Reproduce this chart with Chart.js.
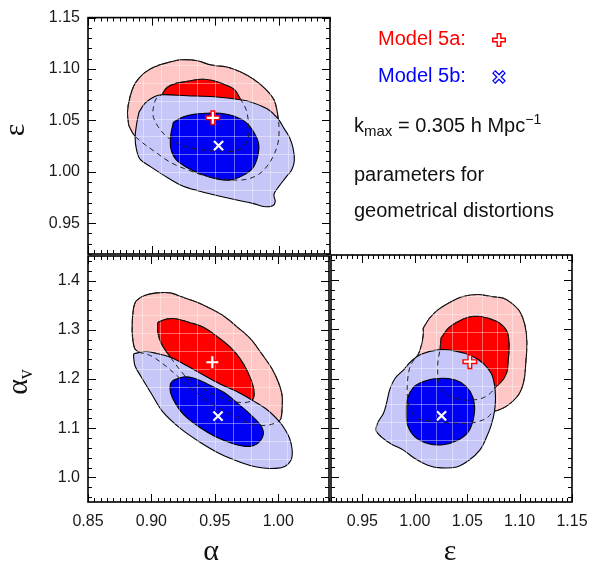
<!DOCTYPE html>
<html>
<head>
<meta charset="utf-8">
<script src="https://cdn.jsdelivr.net/npm/chart.js@4.4.0/dist/chart.umd.js"></script>
<style>
    body { margin: 0; background: #fff; }
    #wrap { position: relative; width: 598px; height: 565px; overflow: hidden; }
    canvas { position: absolute; left: 0; top: 0; }
    .txt { position: absolute; font-family: 'Liberation Sans', Arial, sans-serif; font-size: 20px; line-height: 24px; white-space: nowrap; color: #111; }
    .ttl { position: absolute; font-family: 'Liberation Serif', 'Times New Roman', serif; font-size: 30px; line-height: 30px; white-space: nowrap; color: #111; }
</style>
</head>
<body>
<div id="wrap">
    <canvas id="cAE" width="598" height="565"></canvas>
    <canvas id="cAV" width="598" height="565"></canvas>
    <canvas id="cEV" width="598" height="565"></canvas>

    <div class="txt" style="left:378px;top:26px;color:#ff0000">Model 5a:</div>
    <div class="txt" style="left:378px;top:63px;color:#0000ff">Model 5b:</div>
    <div class="txt" style="left:354px;top:113px">k<span style="font-size:15px;position:relative;top:4px">max</span> = 0.305 h Mpc<span style="font-size:14px;position:relative;top:-8px">&minus;1</span></div>
    <div class="txt" style="left:354px;top:162px">parameters for</div>
    <div class="txt" style="left:354px;top:198px">geometrical distortions</div>

    <div class="ttl" style="left:14px;top:130px;transform:translate(-50%,-50%) rotate(-90deg)">&epsilon;</div>
    <div class="ttl" style="left:18px;top:382px;transform:translate(-50%,-50%) rotate(-90deg)">&alpha;<span style="font-size:20px;position:relative;top:5px">v</span></div>
    <div class="ttl" style="left:211px;top:550px;transform:translate(-50%,-50%)">&alpha;</div>
    <div class="ttl" style="left:450px;top:550px;transform:translate(-50%,-50%)">&epsilon;</div>
</div>

<script>
// axis ranges and tick labels
const alphaRange = [0.85, 1.04];
const epsRange = [0.92, 1.15];
const avRange = [0.95, 1.45];
const alphaTicks = [0.85, 0.90, 0.95, 1.00];
const epsTicks = [0.95, 1.00, 1.05, 1.10, 1.15];
const avTicks = [1.0, 1.1, 1.2, 1.3, 1.4];

// best fit points [alpha, epsilon, alpha_v]
const best5a = [0.948, 1.0525, 1.234];
const best5b = [0.9525, 1.0255, 1.1245];

// alpha - epsilon contours (95% / 68%)
const aeRed95 = [[0.882,1.045],[0.881,1.058],[0.883,1.073],[0.887,1.086],[0.894,1.096],[0.902,1.102],[0.912,1.106],[0.923,1.109],[0.936,1.108],[0.946,1.104],[0.959,1.102],[0.970,1.097],[0.980,1.090],[0.989,1.081],[0.996,1.070],[0.999,1.055],[1.000,1.039],[0.999,1.027],[0.995,1.014],[0.989,1.003],[0.982,0.996],[0.971,0.992],[0.957,0.993],[0.942,0.996],[0.928,1.002],[0.915,1.009],[0.902,1.020],[0.891,1.030],[0.886,1.036]];
const aeRed68 = [[0.908,1.075],[0.912,1.082],[0.919,1.086],[0.928,1.088],[0.938,1.090],[0.947,1.089],[0.957,1.085],[0.965,1.080],[0.970,1.070],[0.974,1.061],[0.976,1.048],[0.976,1.034],[0.972,1.025],[0.965,1.020],[0.951,1.020],[0.936,1.022],[0.923,1.026],[0.912,1.034],[0.905,1.044],[0.901,1.055],[0.902,1.066],[0.904,1.072]];
const aeBlue95 = [[0.890,1.058],[0.895,1.067],[0.902,1.073],[0.908,1.075],[0.928,1.074],[0.949,1.073],[0.970,1.070],[0.980,1.067],[0.991,1.061],[0.999,1.052],[1.004,1.042],[1.008,1.034],[1.011,1.023],[1.012,1.011],[1.010,1.002],[1.005,0.994],[1.000,0.986],[0.996,0.978],[0.997,0.971],[0.995,0.967],[0.989,0.966],[0.980,0.969],[0.965,0.973],[0.951,0.977],[0.938,0.981],[0.923,0.987],[0.909,0.997],[0.899,1.005],[0.891,1.012],[0.888,1.022],[0.887,1.033],[0.888,1.045]];
const aeBlue68 = [[0.917,1.048],[0.924,1.053],[0.933,1.056],[0.944,1.057],[0.954,1.057],[0.965,1.054],[0.974,1.048],[0.980,1.039],[0.984,1.027],[0.983,1.014],[0.979,1.003],[0.971,0.996],[0.962,0.992],[0.951,0.993],[0.940,0.997],[0.928,1.004],[0.919,1.012],[0.915,1.023],[0.915,1.036]];

// alpha - alpha_v contours
const avRed95 = [[0.886,1.346],[0.888,1.359],[0.895,1.370],[0.904,1.375],[0.915,1.375],[0.925,1.366],[0.936,1.356],[0.946,1.344],[0.957,1.328],[0.967,1.307],[0.978,1.282],[0.987,1.251],[0.995,1.221],[1.000,1.194],[1.003,1.167],[1.003,1.139],[1.002,1.119],[0.999,1.112],[0.991,1.106],[0.980,1.107],[0.970,1.119],[0.957,1.136],[0.944,1.156],[0.930,1.183],[0.920,1.207],[0.909,1.231],[0.899,1.248],[0.891,1.254],[0.887,1.261],[0.885,1.288],[0.885,1.322]];
const avRed68 = [[0.905,1.315],[0.912,1.322],[0.920,1.322],[0.930,1.315],[0.941,1.305],[0.951,1.288],[0.962,1.265],[0.970,1.241],[0.976,1.214],[0.980,1.187],[0.981,1.167],[0.979,1.156],[0.972,1.152],[0.962,1.156],[0.951,1.167],[0.941,1.180],[0.930,1.197],[0.923,1.217],[0.915,1.244],[0.908,1.271],[0.905,1.295]];
const avBlue95 = [[0.886,1.251],[0.895,1.256],[0.904,1.252],[0.915,1.244],[0.928,1.227],[0.941,1.208],[0.954,1.190],[0.967,1.175],[0.980,1.156],[0.991,1.138],[1.000,1.116],[1.005,1.099],[1.009,1.079],[1.011,1.055],[1.010,1.035],[1.004,1.021],[0.993,1.018],[0.983,1.021],[0.970,1.031],[0.954,1.048],[0.938,1.072],[0.923,1.099],[0.909,1.133],[0.900,1.170],[0.892,1.204],[0.887,1.227],[0.886,1.244]];
const avBlue68 = [[0.917,1.197],[0.925,1.204],[0.933,1.202],[0.944,1.190],[0.957,1.173],[0.970,1.146],[0.980,1.123],[0.987,1.102],[0.988,1.085],[0.983,1.068],[0.975,1.063],[0.965,1.068],[0.951,1.082],[0.938,1.102],[0.926,1.126],[0.919,1.150],[0.915,1.173],[0.915,1.190]];

// epsilon - alpha_v contours
const evRed95 = [[1.008,1.302],[1.014,1.322],[1.022,1.339],[1.035,1.356],[1.046,1.366],[1.060,1.370],[1.073,1.366],[1.084,1.363],[1.092,1.353],[1.100,1.336],[1.105,1.309],[1.107,1.275],[1.106,1.234],[1.104,1.194],[1.099,1.167],[1.089,1.146],[1.080,1.136],[1.075,1.133],[1.068,1.119],[1.054,1.110],[1.035,1.110],[1.016,1.114],[1.003,1.119],[0.996,1.136],[0.993,1.160],[0.993,1.194],[0.995,1.221],[0.998,1.234],[1.003,1.248],[1.006,1.265],[1.008,1.288]];
const evRed68 = [[1.025,1.282],[1.032,1.302],[1.041,1.315],[1.051,1.324],[1.060,1.326],[1.070,1.322],[1.081,1.312],[1.088,1.295],[1.090,1.268],[1.089,1.234],[1.088,1.214],[1.084,1.197],[1.076,1.180],[1.072,1.170],[1.064,1.160],[1.051,1.156],[1.038,1.160],[1.029,1.170],[1.024,1.187],[1.022,1.207],[1.022,1.234],[1.024,1.258]];
const evBlue95 = [[0.989,1.217],[0.997,1.236],[1.006,1.249],[1.022,1.258],[1.038,1.256],[1.054,1.246],[1.065,1.231],[1.073,1.210],[1.076,1.187],[1.077,1.160],[1.076,1.133],[1.073,1.106],[1.068,1.079],[1.062,1.055],[1.052,1.035],[1.040,1.021],[1.025,1.019],[1.013,1.024],[1.000,1.038],[0.989,1.055],[0.977,1.068],[0.968,1.082],[0.963,1.095],[0.965,1.112],[0.970,1.129],[0.973,1.150],[0.976,1.177],[0.981,1.200]];
const evBlue68 = [[1.006,1.192],[1.017,1.199],[1.032,1.200],[1.044,1.192],[1.053,1.173],[1.057,1.146],[1.056,1.119],[1.051,1.092],[1.041,1.075],[1.027,1.066],[1.013,1.068],[1.000,1.082],[0.993,1.106],[0.992,1.133],[0.993,1.160],[0.999,1.183]];

// background mesh of the density plot: [origin, step]
const alphaMesh = [0.85, 0.014286];
const epsMeshY = [1.00, 0.01725];
const epsMeshX = [0.92, 0.014375];
const avMesh = [1.038, 0.0365];

const PINK = 'rgb(255,198,198)';
const RED = 'rgb(255,0,0)';
const LBLUE = 'rgb(198,198,248)';
const BLUE = 'rgb(0,0,245)';

function closed(arr) {
    return arr.concat([arr[0]]).map(([x, y]) => ({x, y}));
}

function stepValues(min, max, step, origin = 0) {
    const out = [];
    const k0 = Math.ceil((min - origin) / step - 1e-6);
    const k1 = Math.floor((max - origin) / step + 1e-6);
    for (let k = k0; k <= k1; k++) out.push(origin + k * step);
    return out;
}

function contourSets(r95, r68, b95, b68) {
    const solid = (d, c, order, mesh) => ({
        data: closed(d), showLine: true, fill: 'shape', backgroundColor: c,
        borderColor: '#000', borderWidth: 1.1, pointRadius: 0, tension: 0.35, order, mesh
    });
    const dashed = (d, order) => ({
        data: closed(d), showLine: true, fill: false, borderColor: '#222',
        borderWidth: 1, borderDash: [5, 4], pointRadius: 0, tension: 0.35, order
    });
    return [
        solid(r95, PINK, 20), solid(r68, RED, 19), solid(b95, LBLUE, 18), solid(b68, BLUE, 17, true),
        dashed(r95, 16), dashed(r68, 15)
    ];
}

function markerSets(a, b) {
    return [
        {data: [a], pointStyle: 'cross', pointRadius: 7.5, pointBorderWidth: 5, pointBorderColor: RED, order: 4},
        {data: [a], pointStyle: 'cross', pointRadius: 6, pointBorderWidth: 2.2, pointBorderColor: '#fff', order: 3},
        {data: [b], pointStyle: 'crossRot', pointRadius: 7.5, pointBorderWidth: 4.5, pointBorderColor: BLUE, order: 2},
        {data: [b], pointStyle: 'crossRot', pointRadius: 6.5, pointBorderWidth: 2.2, pointBorderColor: '#fff', order: 1}
    ];
}

// size = width (left axis) or height (bottom axis) reserved for the labels
function axisCfg(pos, range, ticks, digits, size) {
    return {
        type: 'linear', position: pos, min: range[0], max: range[1],
        afterBuildTicks: s => { s.ticks = ticks.map(v => ({value: v})); },
        afterFit: s => { if (pos === 'left') s.width = size; else s.height = size; },
        grid: {display: false, drawTicks: false},
        border: {display: false},
        ticks: {
            display: size > 0, autoSkip: false, maxRotation: 0, padding: pos === 'left' ? 8 : 10,
            color: '#1a1a1a',
            font: {family: "'Liberation Sans', Arial, sans-serif", size: 16},
            callback: v => v.toFixed(digits)
        }
    };
}

// frame with inward ticks on all sides, plus the faint mesh over the fills
function makeFrame(cfg) {
    return {
        id: 'frame',
        afterDatasetDraw(chart, args) {
            if (!chart.data.datasets[args.index].mesh) return;
            const {ctx, chartArea: a, scales: {x, y}} = chart;
            ctx.save();
            ctx.beginPath();
            ctx.rect(a.left, a.top, a.width, a.height);
            ctx.clip();
            ctx.strokeStyle = 'rgba(255,255,255,0.4)';
            ctx.lineWidth = 1;
            ctx.beginPath();
            stepValues(x.min, x.max, cfg.meshX[1], cfg.meshX[0]).forEach(v => {
                const p = Math.round(x.getPixelForValue(v)) + 0.5;
                ctx.moveTo(p, a.top); ctx.lineTo(p, a.bottom);
            });
            stepValues(y.min, y.max, cfg.meshY[1], cfg.meshY[0]).forEach(v => {
                const p = Math.round(y.getPixelForValue(v)) + 0.5;
                ctx.moveTo(a.left, p); ctx.lineTo(a.right, p);
            });
            ctx.stroke();
            ctx.restore();
        },
        afterDraw(chart) {
            const {ctx, chartArea: a, scales: {x, y}} = chart;
            const isMajor = (v, majors) => majors.some(m => Math.abs(m - v) < 1e-6);
            ctx.save();
            ctx.strokeStyle = '#000';
            ctx.lineWidth = 1;
            ctx.beginPath();
            stepValues(x.min, x.max, cfg.xMinor).forEach(v => {
                const len = isMajor(v, cfg.xMajor) ? 8 : 4;
                const p = Math.round(x.getPixelForValue(v)) + 0.5;
                ctx.moveTo(p, a.bottom); ctx.lineTo(p, a.bottom - len);
                ctx.moveTo(p, a.top); ctx.lineTo(p, a.top + len);
            });
            stepValues(y.min, y.max, cfg.yMinor).forEach(v => {
                const len = isMajor(v, cfg.yMajor) ? 8 : 4;
                const p = Math.round(y.getPixelForValue(v)) + 0.5;
                ctx.moveTo(a.left, p); ctx.lineTo(a.left + len, p);
                ctx.moveTo(a.right, p); ctx.lineTo(a.right - len, p);
            });
            ctx.stroke();
            ctx.lineWidth = 1.6;
            ctx.strokeRect(a.left, a.top, a.width, a.height);

            if (cfg.legend) {
                const draw = Chart.helpers.drawPoint;
                ctx.strokeStyle = RED; ctx.lineWidth = 5;
                draw(ctx, {pointStyle: 'cross', radius: 7, borderWidth: 5}, 499, 40);
                ctx.strokeStyle = '#fff'; ctx.lineWidth = 2.2;
                draw(ctx, {pointStyle: 'cross', radius: 5.5, borderWidth: 2.2}, 499, 40);
                ctx.strokeStyle = BLUE; ctx.lineWidth = 4.5;
                draw(ctx, {pointStyle: 'crossRot', radius: 7.5, borderWidth: 4.5}, 499, 77);
                ctx.strokeStyle = '#fff'; ctx.lineWidth = 2;
                draw(ctx, {pointStyle: 'crossRot', radius: 6.5, borderWidth: 2}, 499, 77);
            }
            ctx.restore();
        }
    };
}

function panel(id, pad, xs, ys, datasets, frameCfg) {
    return new Chart(document.getElementById(id), {
        type: 'scatter',
        data: {datasets},
        options: {
            responsive: false,
            animation: false,
            events: [],
            devicePixelRatio: 1,
            layout: {padding: pad},
            plugins: {legend: {display: false}, tooltip: {enabled: false}},
            scales: {x: xs, y: ys}
        },
        plugins: [makeFrame(frameCfg)]
    });
}

const pt = (a, b) => ({x: a, y: b});

// alpha vs epsilon (top left)
panel('cAE', {left: 0, top: 9, right: 268, bottom: 311},
    axisCfg('bottom', alphaRange, alphaTicks, 2, 0),
    axisCfg('left', epsRange, epsTicks, 2, 88),
    contourSets(aeRed95, aeRed68, aeBlue95, aeBlue68).concat(
        markerSets(pt(best5a[0], best5a[1]), pt(best5b[0], best5b[1]))),
    {xMajor: alphaTicks, xMinor: 0.005, yMajor: epsTicks, yMinor: 0.01,
     meshX: alphaMesh, meshY: epsMeshY, legend: true});

// alpha vs alpha_v (bottom left)
panel('cAV', {left: 0, top: 256, right: 269, bottom: 23},
    axisCfg('bottom', alphaRange, alphaTicks, 2, 40),
    axisCfg('left', avRange, avTicks, 1, 88),
    contourSets(avRed95, avRed68, avBlue95, avBlue68).concat(
        markerSets(pt(best5a[0], best5a[2]), pt(best5b[0], best5b[2]))),
    {xMajor: alphaTicks, xMinor: 0.005, yMajor: avTicks, yMinor: 0.02,
     meshX: alphaMesh, meshY: avMesh});

// epsilon vs alpha_v (bottom right)
panel('cEV', {left: 331, top: 255, right: 26, bottom: 23},
    axisCfg('bottom', epsRange, epsTicks, 2, 40),
    axisCfg('left', avRange, avTicks, 1, 0),
    contourSets(evRed95, evRed68, evBlue95, evBlue68).concat(
        markerSets(pt(best5a[1], best5a[2]), pt(best5b[1], best5b[2]))),
    {xMajor: epsTicks, xMinor: 0.005, yMajor: avTicks, yMinor: 0.02,
     meshX: epsMeshX, meshY: avMesh});
</script>
</body>
</html>
